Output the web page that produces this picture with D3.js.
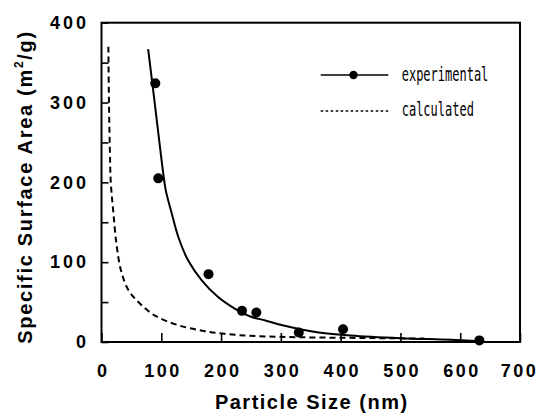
<!DOCTYPE html>
<html>
<head>
<meta charset="utf-8">
<script src="https://cdn.jsdelivr.net/npm/d3@7/dist/d3.min.js"></script>
<style>
  body { margin: 0; background: #fff; }
</style>
</head>
<body>
<script>
//experimental points (particle size nm, surface area m2/g)
var expSize = [90, 95, 179, 235, 259, 330, 404, 632];
var expArea = [324, 205, 85, 39, 37, 12, 16, 2];

//solid fit line through the experimental points
var fitSize = [78, 86, 95, 103.5, 107.5, 117.5, 128.5, 145, 168, 195.5, 223.5, 249, 274, 304.5, 360.5, 416, 500, 584, 634];
var fitArea = [367, 318, 262, 210, 190, 161, 131.5, 102, 77, 56, 41.6, 32, 27, 20.7, 12.3, 8.2, 4.8, 2.8, 1];

//dashed calculated line
var calcSize = [11.5, 12.5, 14, 15.5, 19.5, 25, 32.5, 45, 64.5, 89.5, 128.5, 173, 223.5, 274, 330, 400, 470, 540];
var calcArea = [370, 300, 240, 200, 165, 123, 90, 65, 48, 33, 21, 13.6, 9, 7, 6, 5.3, 4.8, 4.3];

//axis ticks and labels
var xTicks = [0, 100, 200, 300, 400, 500, 600, 700];
var yTicks = [0, 50, 100, 150, 200, 250, 300, 350, 400];
var legendLabels = ["experimental", "calculated"];

window.onload = function() {

    var w = 540, h = 414;
    var left = 101.5, right = 520, top = 22.7, bottom = 342;

    var svg = d3.select("body")
        .append("svg")
        .attr("width", w)
        .attr("height", h)
        .style("background-color", "#fff");

    //scales
    var x = d3.scaleLinear().domain([0, 700]).range([left, right]);
    var y = d3.scaleLinear().domain([0, 400]).range([bottom, top]);

    //x axis, ticks point inwards
    var xAxis = svg.append("g")
        .attr("transform", "translate(0," + bottom + ")")
        .call(d3.axisBottom(x)
            .tickValues(xTicks)
            .tickSizeInner(-9)
            .tickSizeOuter(0)
            .tickPadding(22));
    xAxis.select(".domain").remove();
    xAxis.selectAll("line").attr("stroke", "#000").attr("stroke-width", 1.6);
    xAxis.selectAll("text")
        .attr("font-family", "'Liberation Sans', Arial, sans-serif")
        .attr("font-weight", "bold")
        .attr("font-size", 18)
        .attr("letter-spacing", 2.5)
        .attr("dx", function(d) { return d === 700 ? -1 : 1.2; })
        .attr("fill", "#000");

    //y axis, ticks every 50, labels every 100
    var yAxis = svg.append("g")
        .attr("transform", "translate(" + left + ",0)")
        .call(d3.axisLeft(y)
            .tickValues(yTicks)
            .tickSizeInner(-7)
            .tickSizeOuter(0)
            .tickPadding(12.5)
            .tickFormat(function(d) { return d % 100 === 0 ? d : ""; }));
    yAxis.select(".domain").remove();
    yAxis.selectAll("line").attr("stroke", "#000").attr("stroke-width", 1.6);
    yAxis.selectAll("text")
        .attr("font-family", "'Liberation Sans', Arial, sans-serif")
        .attr("font-weight", "bold")
        .attr("font-size", 18)
        .attr("letter-spacing", 3)
        .attr("fill", "#000");

    //frame round the plot
    svg.append("rect")
        .attr("x", left)
        .attr("y", top)
        .attr("width", right - left)
        .attr("height", bottom - top)
        .attr("fill", "none")
        .attr("stroke", "#000")
        .attr("stroke-width", 2);

    var line = d3.line()
        .x(function(d) { return x(d[0]); })
        .y(function(d) { return y(d[1]); })
        .curve(d3.curveCatmullRom);

    //calculated (dashed)
    svg.append("path")
        .datum(d3.zip(calcSize, calcArea))
        .attr("d", line)
        .attr("fill", "none")
        .attr("stroke", "#000")
        .attr("stroke-width", 2)
        .attr("stroke-dasharray", "6,4");

    //experimental fit (solid)
    svg.append("path")
        .datum(d3.zip(fitSize, fitArea))
        .attr("d", line)
        .attr("fill", "none")
        .attr("stroke", "#000")
        .attr("stroke-width", 2);

    //experimental points
    svg.selectAll(".dots")
        .data(d3.zip(expSize, expArea))
        .enter()
        .append("circle")
        .attr("class", "dots")
        .attr("cx", function(d) { return x(d[0]); })
        .attr("cy", function(d) { return y(d[1]); })
        .attr("r", 5)
        .attr("fill", "#000");

    //axis titles
    svg.append("text")
        .attr("x", (left + right) / 2 + 1)
        .attr("y", 409)
        .attr("text-anchor", "middle")
        .attr("font-family", "'Liberation Sans', Arial, sans-serif")
        .attr("font-weight", "bold")
        .attr("font-size", 20)
        .attr("letter-spacing", 1.5)
        .text("Particle Size (nm)");

    var yTitle = svg.append("text")
        .attr("transform", "translate(32,187) rotate(-90)")
        .attr("text-anchor", "middle")
        .attr("font-family", "'Liberation Sans', Arial, sans-serif")
        .attr("font-weight", "bold")
        .attr("font-size", 20)
        .attr("letter-spacing", 1.7);
    yTitle.append("tspan").text("Specific Surface Area (m");
    yTitle.append("tspan").attr("font-size", 12).attr("dy", -9).text("2");
    yTitle.append("tspan").attr("dy", 9).text("/g)");

    //legend
    var legend = svg.append("g");
    legend.append("line")
        .attr("x1", 320.7).attr("x2", 388.3)
        .attr("y1", 75).attr("y2", 75)
        .attr("stroke", "#000").attr("stroke-width", 1.6);
    legend.append("circle")
        .attr("cx", 353.5).attr("cy", 75).attr("r", 4.2)
        .attr("fill", "#000");
    legend.append("line")
        .attr("x1", 320.7).attr("x2", 388.3)
        .attr("y1", 111).attr("y2", 111)
        .attr("stroke", "#000").attr("stroke-width", 1.5)
        .attr("stroke-dasharray", "2.5,2.5");
    legend.selectAll(".legendText")
        .data(legendLabels)
        .enter()
        .append("text")
        .attr("class", "legendText")
        .attr("transform", function(d, i) {
            return "translate(401.7," + (80.5 + i * 35) + ") scale(1,1.6)";
        })
        .attr("font-family", "'DejaVu Sans Mono', monospace")
        .attr("font-size", 12)
        .attr("fill", "#000")
        .text(function(d) { return d; });
};
</script>
</body>
</html>
